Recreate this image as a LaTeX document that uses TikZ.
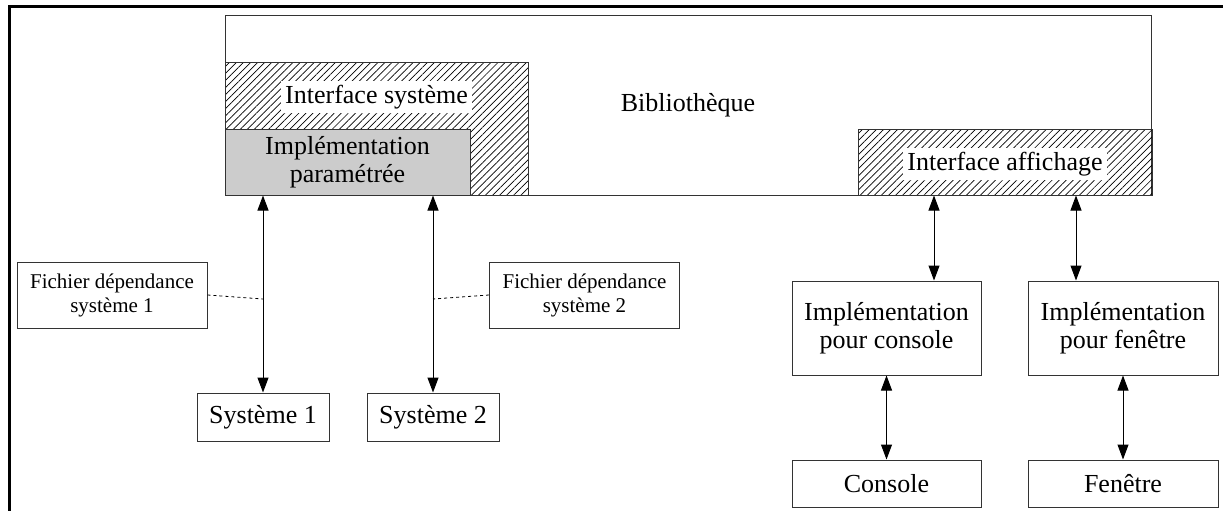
\documentclass[tikz,border=0pt]{standalone}
\usepackage{fontspec}
\setmainfont{Liberation Serif}
\usetikzlibrary{arrows.meta,patterns.meta}

\begin{document}
\begin{tikzpicture}[
    x=1pt, y=-1pt,
    box/.style={
        draw=black!80,
        rectangle,
        line width=1pt,
        align=center,
        inner sep=0pt,
        font=\fontsize{26}{28}\selectfont
    },
    smallbox/.style={box, font=\fontsize{21}{24}\selectfont},
    hatched/.style={box, pattern={Lines[angle=45,distance=5pt,line width=0.7pt]}},
    param/.style={box, fill=black!20},
    tag/.style={fill=white, inner sep=4pt, font=\fontsize{26}{28}\selectfont},
    arrow/.style={{Triangle[length=15pt,width=11pt]}-{Triangle[length=15pt,width=11pt]}, line width=1pt},
    link/.style={dashed, line width=0.8pt}
]

\useasboundingbox (0,0) rectangle (1223,511);

% ===== Frame =====
\draw[line width=3pt] (9,511) -- (9,7) -- (1223,7);

% ===== Library =====
\node[box, minimum width=926pt, minimum height=179pt] (lib) at (688,105.5) {Bibliothèque};
\node[hatched, minimum width=303pt, minimum height=132pt] (isys) at (376.5,129) {};
\node[tag] (isystxt) at (376.5,97) {Interface système};
\node[param, minimum width=245pt, minimum height=66pt] (impl) at (347.5,162) {Implémentation\\paramétrée};
\node[hatched, minimum width=294pt, minimum height=66pt] (iaff) at (1005,162) {};
\node[tag] (iafftxt) at (1005,164) {Interface affichage};

% ===== Systems =====
\node[box, minimum width=132pt, minimum height=48pt] (sys1) at (263,417) {Système 1};
\node[box, minimum width=132pt, minimum height=48pt] (sys2) at (433,417) {Système 2};
\node[smallbox, minimum width=190pt, minimum height=66pt] (fic1) at (112,295) {Fichier dépendance\\système 1};
\node[smallbox, minimum width=190pt, minimum height=66pt] (fic2) at (584.5,295) {Fichier dépendance\\système 2};
\coordinate (d1) at (263,299);
\coordinate (d2) at (433,299);

% ===== Display =====
\node[box, minimum width=189pt, minimum height=94pt] (icons) at (886.5,328) {Implémentation\\pour console};
\node[box, minimum width=190pt, minimum height=94pt] (ifen) at (1123,328) {Implémentation\\pour fenêtre};
\node[box, minimum width=189pt, minimum height=47pt] (cons) at (886.5,483.5) {Console};
\node[box, minimum width=190pt, minimum height=47pt] (fen) at (1123,483.5) {Fenêtre};

% ===== Arrows =====
\draw[arrow] (sys1.north |- impl.south) -- (sys1.north);
\draw[arrow] (sys2.north |- impl.south) -- (sys2.north);
\draw[arrow] ([xshift=-71pt]iaff.south) -- ([xshift=-71pt]iaff.south |- icons.north);
\draw[arrow] ([xshift=71pt]iaff.south) -- ([xshift=71pt]iaff.south |- ifen.north);
\draw[arrow] (icons.south) -- (cons.north);
\draw[arrow] (ifen.south) -- (fen.north);

% ===== Dependency links =====
\draw[link] (fic1.east) -- (d1);
\draw[link] (fic2.west) -- (d2);

\end{tikzpicture}
\end{document}
